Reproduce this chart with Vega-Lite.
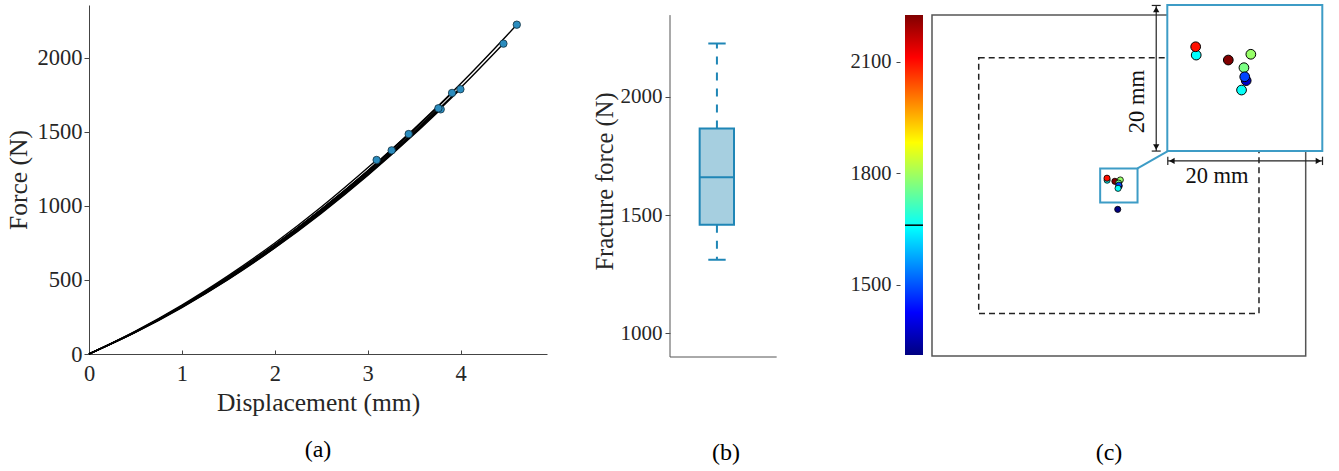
{
  "$schema": "https://vega.github.io/schema/vega-lite/v6.json",
  "padding": {"left": 6, "top": 4, "right": 5, "bottom": 5},
  "bounds": "flush",
  "spacing": 123,
  "datasets": {
    "curves": [
      {"c":1,"d":0,"f":0},{"c":1,"d":0.5,"f":151},{"c":1,"d":1,"f":325},{"c":1,"d":1.5,"f":520},{"c":1,"d":2,"f":737},{"c":1,"d":2.5,"f":977},{"c":1,"d":3,"f":1238},{"c":1,"d":3.5,"f":1521},{"c":1,"d":4,"f":1826},{"c":1,"d":4.5,"f":2154},{"c":1,"d":4.605,"f":2225},
      {"c":2,"d":0,"f":0},{"c":2,"d":0.5,"f":148},{"c":2,"d":1,"f":318},{"c":2,"d":1.5,"f":510},{"c":2,"d":2,"f":724},{"c":2,"d":2.5,"f":960},{"c":2,"d":3,"f":1217},{"c":2,"d":3.5,"f":1497},{"c":2,"d":4,"f":1799},{"c":2,"d":4.461,"f":2097},
      {"c":3,"d":0,"f":0},{"c":3,"d":0.5,"f":147},{"c":3,"d":1,"f":316},{"c":3,"d":1.5,"f":506},{"c":3,"d":2,"f":719},{"c":3,"d":2.5,"f":954},{"c":3,"d":3,"f":1211},{"c":3,"d":3.5,"f":1490},{"c":3,"d":3.998,"f":1789},
      {"c":4,"d":0,"f":0},{"c":4,"d":0.5,"f":151},{"c":4,"d":1,"f":323},{"c":4,"d":1.5,"f":518},{"c":4,"d":2,"f":735},{"c":4,"d":2.5,"f":974},{"c":4,"d":3,"f":1234},{"c":4,"d":3.5,"f":1517},{"c":4,"d":3.908,"f":1764},
      {"c":5,"d":0,"f":0},{"c":5,"d":0.5,"f":146},{"c":5,"d":1,"f":314},{"c":5,"d":1.5,"f":504},{"c":5,"d":2,"f":716},{"c":5,"d":2.5,"f":950},{"c":5,"d":3,"f":1206},{"c":5,"d":3.5,"f":1484},{"c":5,"d":3.786,"f":1653},
      {"c":6,"d":0,"f":0},{"c":6,"d":0.5,"f":149},{"c":6,"d":1,"f":320},{"c":6,"d":1.5,"f":513},{"c":6,"d":2,"f":728},{"c":6,"d":2.5,"f":965},{"c":6,"d":3,"f":1224},{"c":6,"d":3.5,"f":1505},{"c":6,"d":3.761,"f":1660},
      {"c":7,"d":0,"f":0},{"c":7,"d":0.5,"f":151},{"c":7,"d":1,"f":324},{"c":7,"d":1.5,"f":520},{"c":7,"d":2,"f":737},{"c":7,"d":2.5,"f":976},{"c":7,"d":3,"f":1237},{"c":7,"d":3.441,"f":1486},
      {"c":8,"d":0,"f":0},{"c":8,"d":0.5,"f":150},{"c":8,"d":1,"f":323},{"c":8,"d":1.5,"f":518},{"c":8,"d":2,"f":734},{"c":8,"d":2.5,"f":972},{"c":8,"d":3,"f":1233},{"c":8,"d":3.258,"f":1376},
      {"c":9,"d":0,"f":0},{"c":9,"d":0.5,"f":155},{"c":9,"d":1,"f":331},{"c":9,"d":1.5,"f":530},{"c":9,"d":2,"f":750},{"c":9,"d":2.5,"f":993},{"c":9,"d":3,"f":1258},{"c":9,"d":3.096,"f":1311}
    ],
    "specimens": [
      {"d":3.786,"f":1653,"x":93.73,"y":103.14},
      {"d":4.461,"f":2097,"x":93.66,"y":104.28},
      {"d":4.605,"f":2225,"x":97.87,"y":102.46},
      {"d":3.998,"f":1789,"x":100.78,"y":103.25},
      {"d":3.908,"f":1764,"x":99.89,"y":101.41},
      {"d":3.258,"f":1376,"x":100.18,"y":99.64},
      {"d":3.441,"f":1486,"x":99.99,"y":100.17},
      {"d":3.761,"f":1660,"x":99.58,"y":98.35},
      {"d":3.096,"f":1311,"x":99.4,"y":86.0}
    ],
    "box": [{"min":1311,"q1":1458.5,"median":1660,"q3":1866,"max":2225}],
    "one": [{"n":1}]
  },
  "hconcat": [
    {
      "width": 458, "height": 349,
      "title": {"text": "(a)", "orient": "bottom", "frame": "group", "anchor": "middle", "offset": 22},
      "layer": [
        {
          "data": {"name": "curves"},
          "mark": {"type": "line", "color": "black", "strokeWidth": 1.4, "interpolate": "monotone"},
          "encoding": {
            "x": {"field": "d", "type": "quantitative", "title": "Displacement (mm)", "scale": {"domain": [0, 4.93], "nice": false, "zero": false},
                  "axis": {"values": [0,1,2,3,4], "format": "d", "tickSize": -4, "labelPadding": 12, "titlePadding": 6, "labelFontSize": 22.5, "titleFontSize": 25.5, "labelFlush": false, "labelOverlap": false}},
            "y": {"field": "f", "type": "quantitative", "title": "Force (N)", "scale": {"domain": [0, 2358], "nice": false},
                  "axis": {"values": [0,500,1000,1500,2000], "format": "d", "tickSize": 5, "labelPadding": 2, "titlePadding": 6, "labelFontSize": 22.5, "titleFontSize": 25.5, "labelFlush": false, "labelOverlap": false}},
            "detail": {"field": "c", "type": "nominal"}
          }
        },
        {
          "data": {"name": "specimens"},
          "mark": {"type": "circle", "fill": "#2b8cbe", "stroke": "#12303f", "strokeWidth": 0.8, "size": 55, "opacity": 1},
          "encoding": {
            "x": {"field": "d", "type": "quantitative", "title": "Displacement (mm)"},
            "y": {"field": "f", "type": "quantitative", "title": "Force (N)"}
          }
        }
      ]
    },
    {
      "width": 112, "height": 352,
      "title": {"text": "(b)", "orient": "bottom", "frame": "group", "anchor": "middle", "offset": 83},
      "data": {"name": "box"},
      "layer": [
        {
          "mark": {"type": "rule", "color": "#555555", "strokeWidth": 1},
          "encoding": {
            "x": {"datum": 0, "type": "quantitative", "scale": {"domain": [0, 1.05], "nice": false, "zero": false}, "axis": null},
            "y": {"datum": 900, "type": "quantitative", "title": "Fracture force (N)", "scale": {"domain": [900, 2387.7], "nice": false, "zero": false},
                  "axis": {"values": [1000,1500,2000], "format": "d", "domain": false, "tickSize": 5, "labelPadding": 3, "titlePadding": 3, "labelFontSize": 21, "titleFontSize": 24.5, "labelFlush": false}},
            "y2": {"datum": 2345}
          }
        },
        {
          "mark": {"type": "rule", "color": "#555555", "strokeWidth": 1},
          "encoding": {
            "x": {"datum": 0, "type": "quantitative"},
            "x2": {"datum": 1},
            "y": {"datum": 900, "type": "quantitative", "title": "Fracture force (N)"}
          }
        },
        {
          "mark": {"type": "rule", "color": "#1f86b6", "strokeWidth": 2, "strokeDash": [8, 8]},
          "encoding": {
            "x": {"datum": 0.44, "type": "quantitative"},
            "y": {"field": "q3", "type": "quantitative", "title": "Fracture force (N)"},
            "y2": {"field": "max"}
          }
        },
        {
          "mark": {"type": "rule", "color": "#1f86b6", "strokeWidth": 2, "strokeDash": [8, 8]},
          "encoding": {
            "x": {"datum": 0.44, "type": "quantitative"},
            "y": {"field": "q1", "type": "quantitative", "title": "Fracture force (N)"},
            "y2": {"field": "min"}
          }
        },
        {
          "mark": {"type": "rule", "color": "#1f86b6", "strokeWidth": 2},
          "encoding": {
            "x": {"datum": 0.359, "type": "quantitative"},
            "x2": {"datum": 0.522},
            "y": {"field": "max", "type": "quantitative", "title": "Fracture force (N)"}
          }
        },
        {
          "mark": {"type": "rule", "color": "#1f86b6", "strokeWidth": 2},
          "encoding": {
            "x": {"datum": 0.359, "type": "quantitative"},
            "x2": {"datum": 0.522},
            "y": {"field": "min", "type": "quantitative", "title": "Fracture force (N)"}
          }
        },
        {
          "mark": {"type": "rect", "fill": "#a6cfe0", "stroke": "#1f86b6", "strokeWidth": 2},
          "encoding": {
            "x": {"datum": 0.278, "type": "quantitative"},
            "x2": {"datum": 0.6},
            "y": {"field": "q1", "type": "quantitative", "title": "Fracture force (N)"},
            "y2": {"field": "q3"}
          }
        },
        {
          "mark": {"type": "rule", "color": "#1f86b6", "strokeWidth": 2},
          "encoding": {
            "x": {"datum": 0.278, "type": "quantitative"},
            "x2": {"datum": 0.6},
            "y": {"field": "median", "type": "quantitative", "title": "Fracture force (N)"}
          }
        }
      ]
    },
    {
      "width": 418, "height": 351,
      "title": {"text": "(c)", "orient": "bottom", "frame": "group", "anchor": "middle", "offset": 84, "dx": -5},
      "layer": [
        {
          "data": {"name": "one"},
          "layer": [
            {
              "mark": {"type": "rect", "color": {"gradient": "linear", "x1": 0, "y1": 1, "x2": 0, "y2": 0,
                "stops": [{"offset": 0, "color": "#000080"}, {"offset": 0.125, "color": "#0000ff"}, {"offset": 0.375, "color": "#00ffff"}, {"offset": 0.625, "color": "#ffff00"}, {"offset": 0.875, "color": "#ff0000"}, {"offset": 1, "color": "#800000"}]}},
              "encoding": {
                "x": {"datum": -14.45, "type": "quantitative", "scale": {"domain": [-14.45, 209.26], "nice": false, "zero": false}, "axis": null},
                "x2": {"datum": -4.82},
                "y": {"datum": 1311, "type": "quantitative", "title": "Fracture force (N)", "scale": {"domain": [1308.3, 2251.9], "nice": false, "zero": false},
                      "axis": {"values": [1500,1800,2100], "format": "d", "domain": false, "offset": 5, "tickSize": 4, "labelPadding": 5, "titlePadding": 5, "labelFontSize": 20.5, "titleFontSize": 24, "labelFlush": false}},
                "y2": {"datum": 2225}
              }
            },
            {
              "mark": {"type": "rule", "color": "black", "strokeWidth": 1.5},
              "encoding": {
                "x": {"datum": -14.45, "type": "quantitative", "scale": {"domain": [-14.45, 209.26], "nice": false, "zero": false}, "axis": null},
                "x2": {"datum": -4.82},
                "y": {"datum": 1660, "type": "quantitative", "title": "Fracture force (N)", "scale": {"domain": [1308.3, 2251.9], "nice": false, "zero": false}}
              }
            }
          ]
        },
        {
          "layer": [
            {
              "data": {"name": "one"},
              "mark": {"type": "rect", "fill": "white", "fillOpacity": 0, "stroke": "#555555", "strokeWidth": 1.5},
              "encoding": {
                "x": {"datum": 0, "type": "quantitative", "scale": {"domain": [-14.45, 209.26], "nice": false, "zero": false}, "axis": null},
                "x2": {"datum": 200},
                "y": {"datum": 0, "type": "quantitative", "scale": {"domain": [0, 205.87], "nice": false, "zero": false}, "axis": null},
                "y2": {"datum": 200}
              }
            },
            {
              "data": {"name": "one"},
              "mark": {"type": "rect", "fill": "white", "fillOpacity": 0, "stroke": "#222222", "strokeWidth": 1.5, "strokeDash": [6, 4]},
              "encoding": {
                "x": {"datum": 25, "type": "quantitative"},
                "x2": {"datum": 175},
                "y": {"datum": 25, "type": "quantitative"},
                "y2": {"datum": 175}
              }
            },
            {
              "data": {"name": "one"},
              "mark": {"type": "rect", "fill": "white", "fillOpacity": 0, "stroke": "#3d9cc6", "strokeWidth": 2},
              "encoding": {
                "x": {"datum": 90, "type": "quantitative"},
                "x2": {"datum": 110},
                "y": {"datum": 90, "type": "quantitative"},
                "y2": {"datum": 110}
              }
            },
            {
              "data": {"name": "one"},
              "mark": {"type": "rule", "color": "#3d9cc6", "strokeWidth": 2},
              "encoding": {
                "x": {"datum": 110, "type": "quantitative"},
                "x2": {"datum": 126.2},
                "y": {"datum": 110, "type": "quantitative"},
                "y2": {"datum": 120.2}
              }
            },
            {
              "data": {"name": "specimens"},
              "mark": {"type": "circle", "stroke": "black", "strokeWidth": 0.8, "size": 38, "opacity": 1},
              "encoding": {
                "x": {"field": "x", "type": "quantitative"},
                "y": {"field": "y", "type": "quantitative"},
                "fill": {"field": "f", "type": "quantitative", "legend": null,
                  "scale": {"type": "linear", "domain": [1311, 1425.25, 1653.75, 1882.25, 2110.75, 2225], "range": ["#000080", "#0000ff", "#00ffff", "#ffff00", "#ff0000", "#800000"], "interpolate": "rgb"}}
              }
            },
            {
              "data": {"name": "one"},
              "mark": {"type": "rule", "color": "#222222", "strokeWidth": 1.2},
              "encoding": {
                "x": {"datum": 120, "type": "quantitative"},
                "y": {"datum": 120.2, "type": "quantitative"},
                "y2": {"datum": 205.6}
              }
            },
            {
              "data": {"name": "one"},
              "mark": {"type": "rule", "color": "#222222", "strokeWidth": 1.2},
              "encoding": {
                "x": {"datum": 117.6, "type": "quantitative"},
                "x2": {"datum": 122.4},
                "y": {"datum": 205.6, "type": "quantitative"}
              }
            },
            {
              "data": {"name": "one"},
              "mark": {"type": "rule", "color": "#222222", "strokeWidth": 1.2},
              "encoding": {
                "x": {"datum": 117.6, "type": "quantitative"},
                "x2": {"datum": 122.4},
                "y": {"datum": 120.2, "type": "quantitative"}
              }
            },
            {
              "data": {"name": "one"},
              "mark": {"type": "point", "shape": "triangle-up", "filled": true, "color": "#111111", "size": 40, "opacity": 1},
              "encoding": {
                "x": {"datum": 120, "type": "quantitative"},
                "y": {"datum": 203.2, "type": "quantitative"}
              }
            },
            {
              "data": {"name": "one"},
              "mark": {"type": "point", "shape": "triangle-down", "filled": true, "color": "#111111", "size": 40, "opacity": 1},
              "encoding": {
                "x": {"datum": 120, "type": "quantitative"},
                "y": {"datum": 122.6, "type": "quantitative"}
              }
            },
            {
              "data": {"name": "one"},
              "mark": {"type": "rule", "color": "#222222", "strokeWidth": 1.2},
              "encoding": {
                "x": {"datum": 126.2, "type": "quantitative"},
                "x2": {"datum": 209.1},
                "y": {"datum": 114.4, "type": "quantitative"}
              }
            },
            {
              "data": {"name": "one"},
              "mark": {"type": "rule", "color": "#222222", "strokeWidth": 1.2},
              "encoding": {
                "x": {"datum": 126.2, "type": "quantitative"},
                "y": {"datum": 112.0, "type": "quantitative"},
                "y2": {"datum": 116.9}
              }
            },
            {
              "data": {"name": "one"},
              "mark": {"type": "rule", "color": "#222222", "strokeWidth": 1.2},
              "encoding": {
                "x": {"datum": 209.0, "type": "quantitative"},
                "y": {"datum": 112.0, "type": "quantitative"},
                "y2": {"datum": 116.9}
              }
            },
            {
              "data": {"name": "one"},
              "mark": {"type": "point", "shape": "triangle-left", "filled": true, "color": "#111111", "size": 40, "opacity": 1},
              "encoding": {
                "x": {"datum": 128.4, "type": "quantitative"},
                "y": {"datum": 114.4, "type": "quantitative"}
              }
            },
            {
              "data": {"name": "one"},
              "mark": {"type": "point", "shape": "triangle-right", "filled": true, "color": "#111111", "size": 40, "opacity": 1},
              "encoding": {
                "x": {"datum": 206.8, "type": "quantitative"},
                "y": {"datum": 114.4, "type": "quantitative"}
              }
            },
            {
              "data": {"name": "one"},
              "mark": {"type": "text", "text": "20 mm", "font": "Liberation Serif", "fontSize": 22.5, "angle": 270, "align": "center", "baseline": "middle", "color": "#111111"},
              "encoding": {
                "x": {"datum": 109.7, "type": "quantitative"},
                "y": {"datum": 149.2, "type": "quantitative"}
              }
            },
            {
              "data": {"name": "one"},
              "mark": {"type": "text", "text": "20 mm", "font": "Liberation Serif", "fontSize": 22.5, "align": "center", "baseline": "middle", "color": "#111111"},
              "encoding": {
                "x": {"datum": 152.5, "type": "quantitative"},
                "y": {"datum": 105.6, "type": "quantitative"}
              }
            }
          ]
        },
        {
          "layer": [
            {
              "data": {"name": "one"},
              "mark": {"type": "rect", "fill": "white", "stroke": "#3d9cc6", "strokeWidth": 2},
              "encoding": {
                "x": {"datum": 90, "type": "quantitative", "scale": {"domain": [90, 110], "range": [262.3, 417.3], "nice": false, "zero": false}, "axis": null},
                "x2": {"datum": 110},
                "y": {"datum": 90, "type": "quantitative", "scale": {"domain": [90, 110], "range": [146, 0], "nice": false, "zero": false}, "axis": null},
                "y2": {"datum": 110}
              }
            },
            {
              "data": {"name": "specimens"},
              "transform": [{"filter": "datum.x >= 90 && datum.x <= 110 && datum.y >= 90 && datum.y <= 110"}],
              "mark": {"type": "circle", "stroke": "black", "strokeWidth": 1, "size": 95, "opacity": 1},
              "encoding": {
                "x": {"field": "x", "type": "quantitative", "scale": {"domain": [90, 110], "range": [262.3, 417.3], "nice": false, "zero": false}, "axis": null},
                "y": {"field": "y", "type": "quantitative", "scale": {"domain": [90, 110], "range": [146, 0], "nice": false, "zero": false}, "axis": null},
                "fill": {"field": "f", "type": "quantitative", "legend": null,
                  "scale": {"type": "linear", "domain": [1311, 1425.25, 1653.75, 1882.25, 2110.75, 2225], "range": ["#000080", "#0000ff", "#00ffff", "#ffff00", "#ff0000", "#800000"], "interpolate": "rgb"}}
              }
            }
          ]
        }
      ],
      "resolve": {"scale": {"x": "independent", "y": "independent"}}
    }
  ],
  "config": {
    "font": "Liberation Serif",
    "view": {"stroke": null},
    "axis": {
      "labelFont": "Liberation Serif", "titleFont": "Liberation Serif", "titleFontWeight": "normal",
      "labelColor": "#262626", "titleColor": "#262626", "domainColor": "#444444", "tickColor": "#444444",
      "grid": false
    },
    "title": {"font": "Liberation Serif", "fontWeight": "normal", "fontSize": 24, "color": "#000000"}
  }
}
